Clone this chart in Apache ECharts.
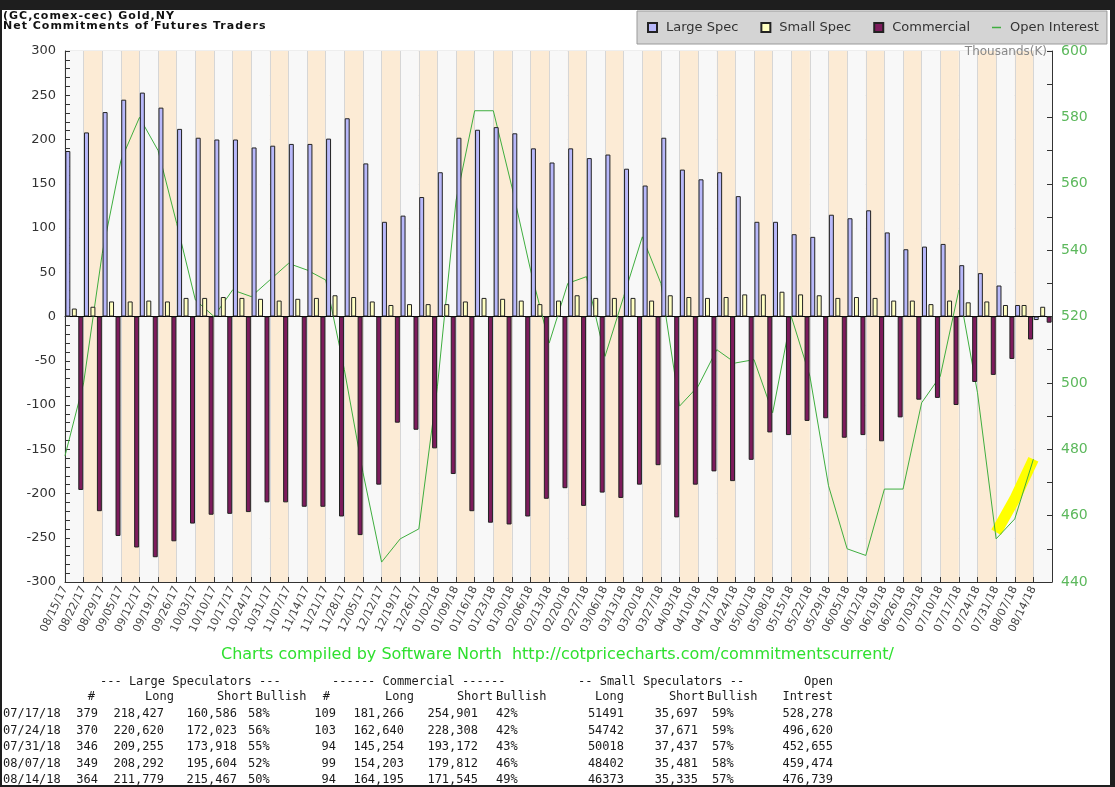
<!DOCTYPE html>
<html>
<head>
<meta charset="utf-8">
<title>Gold COT</title>
<script src="https://cdn.jsdelivr.net/npm/echarts@6/dist/echarts.min.js"></script>
<style>
  body { margin: 0; background: #1e1e1e; width: 1115px; height: 787px; overflow: hidden; }
  #page { position: absolute; left: 2px; top: 10px; width: 1108px; height: 775px; background: #fff; }
  #chart { position: absolute; left: 0; top: 0; width: 1115px; height: 787px; }
  #title { position: absolute; left: 3px; top: 11px; white-space: pre; letter-spacing: 1px;
           font: bold 11px/10px "DejaVu Sans", sans-serif; color: #111; }
  #credit { position: absolute; left: 0; width: 1115px; top: 644px; text-align: center; white-space: pre;
            font: 16px "DejaVu Sans", sans-serif; color: #2fe02f; }
  .cell { position: absolute; white-space: pre; font: 12px "DejaVu Sans Mono", monospace; color: #1a1a1a; line-height: 14px; }
</style>
</head>
<body>
<div id="page"></div>
<div id="chart"></div>
<div id="title">(GC,comex-cec) Gold,NY
Net Commitments of Futures Traders</div>
<div id="credit">Charts compiled by Software North  http://cotpricecharts.com/commitmentscurrent/</div>
<div id="table"></div>
<script>
// weekly report dates
const dates = ['08/15/17','08/22/17','08/29/17','09/05/17','09/12/17','09/19/17','09/26/17','10/03/17','10/10/17',
  '10/17/17','10/24/17','10/31/17','11/07/17','11/14/17','11/21/17','11/28/17','12/05/17','12/12/17','12/19/17',
  '12/26/17','01/02/18','01/09/18','01/16/18','01/23/18','01/30/18','02/06/18','02/13/18','02/20/18','02/27/18',
  '03/06/18','03/13/18','03/20/18','03/27/18','04/03/18','04/10/18','04/17/18','04/24/18','05/01/18','05/08/18',
  '05/15/18','05/22/18','05/29/18','06/05/18','06/12/18','06/19/18','06/26/18','07/03/18','07/10/18','07/17/18',
  '07/24/18','07/31/18','08/07/18','08/14/18'];

// net positions, thousands of contracts
const largeSpec = [187, 208, 231, 245, 253, 236, 212, 202, 200, 200, 191, 193, 195, 195, 201, 224, 173, 107, 114,
  135, 163, 202, 211, 214, 207, 190, 174, 190, 179, 183, 167, 148, 202, 166, 155, 163, 136, 107, 107,
  93, 90, 115, 111, 120, 95, 76, 79, 82, 58, 49, 35, 13, -4];
const smallSpec = [9, 11, 17, 17, 18, 17, 21, 21, 22, 21, 20, 18, 20, 21, 24, 22, 17, 13, 14,
  14, 14, 17, 21, 20, 18, 14, 18, 24, 21, 21, 21, 18, 24, 22, 21, 22, 25, 25, 28,
  25, 24, 21, 22, 21, 18, 18, 14, 18, 16, 17, 13, 13, 11];
const commercial = [-196, -220, -248, -261, -272, -254, -234, -224, -223, -221, -210, -210, -215, -215, -226, -247, -190, -120, -128,
  -149, -178, -220, -233, -235, -226, -206, -194, -214, -199, -205, -190, -168, -227, -190, -175, -186, -162, -131, -134,
  -118, -115, -137, -134, -141, -114, -94, -92, -100, -74, -66, -48, -26, -7];
// open interest, thousands
const openInterest = [478, 500, 539, 567, 580, 570, 548, 525, 520, 528, 526, 531, 536, 534, 531, 504, 473, 446, 453,
  456, 499, 555, 582, 582, 559, 534, 512, 530, 532, 508, 526, 544, 530, 493, 499, 510, 506, 507, 491,
  520, 502, 469, 450, 448, 468, 468, 494, 502, 528, 497, 453, 459, 477];
// yellow marker stroke over the last three weeks
const highlightStart = 50;
const highlight = [455, 465, 477];

// table under the chart
const tblDates = ['07/17/18', '07/24/18', '07/31/18', '08/07/18', '08/14/18'];
const lsTraders = ['379', '370', '346', '349', '364'];
const lsLong = ['218,427', '220,620', '209,255', '208,292', '211,779'];
const lsShort = ['160,586', '172,023', '173,918', '195,604', '215,467'];
const lsBull = ['58%', '56%', '55%', '52%', '50%'];
const cmTraders = ['109', '103', '94', '99', '94'];
const cmLong = ['181,266', '162,640', '145,254', '154,203', '164,195'];
const cmShort = ['254,901', '228,308', '193,172', '179,812', '171,545'];
const cmBull = ['42%', '42%', '43%', '46%', '49%'];
const ssLong = ['51491', '54742', '50018', '48402', '46373'];
const ssShort = ['35,697', '37,671', '37,437', '35,481', '35,335'];
const ssBull = ['59%', '59%', '57%', '58%', '57%'];
const oiTable = ['528,278', '496,620', '452,655', '459,474', '476,739'];

const chart = echarts.init(document.getElementById('chart'));

const highlightData = dates.map((d, i) => {
  const k = i - highlightStart;
  return k >= 0 && k < highlight.length ? highlight[k] : null;
});

const option = {
  backgroundColor: 'transparent',
  animation: false,
  legend: {
    left: 637, top: 11,
    padding: [10, 8, 10, 10],
    itemWidth: 9, itemHeight: 9, itemGap: 22,
    backgroundColor: '#d4d4d4', borderColor: '#9a9a9a', borderWidth: 1, borderRadius: 0,
    selectedMode: false,
    textStyle: { fontFamily: 'DejaVu Sans', fontSize: 13, color: '#333', padding: [0, 0, 0, 4] },
    data: [
      { name: 'Large Spec', icon: 'rect' },
      { name: 'Small Spec', icon: 'rect' },
      { name: 'Commercial', icon: 'rect' },
      { name: 'Open Interest', icon: 'path://M0,0H12V2H0Z' }
    ]
  },
  grid: {
    left: 65, right: 63, top: 51, bottom: 205,
    show: true, borderColor: '#dcdcdc', borderWidth: 1, backgroundColor: 'transparent',
    outerBoundsMode: 'none'
  },
  xAxis: [
    {
      type: 'category', data: dates, position: 'top', boundaryGap: true,
      axisLine: { onZero: true, onZeroAxisIndex: 0, lineStyle: { color: '#000', width: 1 } },
      axisTick: { show: false }, axisLabel: { show: false },
      splitLine: { show: true, interval: 0, lineStyle: { color: '#d6d6d6' } },
      splitArea: { show: true, interval: 0, areaStyle: { color: ['#f8f8f8', '#fcebd5'] } }
    },
    {
      type: 'category', data: dates.concat(['']), position: 'bottom', boundaryGap: false,
      axisLine: { onZero: false, lineStyle: { color: '#333' } },
      axisTick: { inside: true, length: 5, interval: 0, lineStyle: { color: '#333' } },
      axisLabel: { interval: 0, rotate: 64, margin: 5, fontFamily: 'DejaVu Sans', fontSize: 11, color: '#444' },
      splitLine: { show: false }
    }
  ],
  yAxis: [
    {
      type: 'value', min: -300, max: 300, interval: 50, position: 'left',
      axisLine: { show: true, lineStyle: { color: '#333' } },
      axisTick: { show: true, inside: true, length: 5, lineStyle: { color: '#333' } },
      minorTick: { show: true, splitNumber: 5, length: 5, lineStyle: { color: '#333' } },
      axisLabel: { fontFamily: 'DejaVu Sans', fontSize: 13, color: '#333', margin: 9 },
      splitLine: { show: true, lineStyle: { color: '#d8d8d8' } }
    },
    {
      type: 'value', min: 440, max: 600, interval: 20, position: 'right',
      name: 'Thousands(K)', nameLocation: 'end', nameGap: -1,
      nameTextStyle: { fontFamily: 'DejaVu Sans', fontSize: 12, color: '#888', align: 'right',
        verticalAlign: 'middle', padding: [0, 5, 0, 0] },
      axisLine: { show: true, lineStyle: { color: '#333' } },
      axisTick: { show: true, inside: true, length: 5, lineStyle: { color: '#333' } },
      minorTick: { show: true, splitNumber: 2, length: 5, lineStyle: { color: '#333' } },
      axisLabel: { fontFamily: 'DejaVu Sans', fontSize: 14, color: '#5cb85c', margin: 9 },
      splitLine: { show: false }
    }
  ],
  series: [
    {
      name: 'Large Spec', type: 'bar', xAxisIndex: 0, yAxisIndex: 0, data: largeSpec, z: 3,
      barGap: '30%', barCategoryGap: '4%',
      itemStyle: { color: '#b8b8fa', borderColor: '#222', borderWidth: 1 }
    },
    {
      name: 'Small Spec', type: 'bar', xAxisIndex: 0, yAxisIndex: 0, data: smallSpec, z: 3,
      itemStyle: { color: '#ffffc2', borderColor: '#222', borderWidth: 1 }
    },
    {
      name: 'Commercial', type: 'bar', xAxisIndex: 0, yAxisIndex: 0, data: commercial, z: 3,
      itemStyle: { color: '#7d1b5c', borderColor: '#222', borderWidth: 1 }
    },
    {
      name: 'marker', type: 'line', xAxisIndex: 1, yAxisIndex: 1, data: highlightData, z: 1,
      symbol: 'none', silent: true, lineStyle: { color: '#ffff00', width: 11, cap: 'butt' }
    },
    {
      name: 'Open Interest', type: 'line', xAxisIndex: 1, yAxisIndex: 1, data: openInterest, z: 2,
      symbol: 'none', itemStyle: { color: '#3fae3f' }, lineStyle: { color: '#3fae3f', width: 1 }
    }
  ]
};

chart.setOption(option);

// text table below the chart
const table = document.getElementById('table');
function cell(text, x, y, align) {
  const el = document.createElement('div');
  el.className = 'cell';
  el.textContent = text;
  el.style.top = (y - 7) + 'px';
  if (align === 'right') el.style.right = (1115 - x) + 'px';
  else el.style.left = x + 'px';
  table.appendChild(el);
}
cell('--- Large Speculators ---', 100, 681, 'left');
cell('------ Commercial ------', 332, 681, 'left');
cell('-- Small Speculators --', 578, 681, 'left');
cell('Open', 833, 681, 'right');
cell('#', 95, 696, 'right');
cell('Long', 174, 696, 'right');
cell('Short', 253, 696, 'right');
cell('Bullish', 256, 696, 'left');
cell('#', 330, 696, 'right');
cell('Long', 414, 696, 'right');
cell('Short', 493, 696, 'right');
cell('Bullish', 496, 696, 'left');
cell('Long', 624, 696, 'right');
cell('Short', 705, 696, 'right');
cell('Bullish', 707, 696, 'left');
cell('Intrest', 833, 696, 'right');
tblDates.forEach((d, i) => {
  const y = 713 + i * 16.6;
  cell(d, 3, y, 'left');
  cell(lsTraders[i], 98, y, 'right');
  cell(lsLong[i], 164, y, 'right');
  cell(lsShort[i], 237, y, 'right');
  cell(lsBull[i], 248, y, 'left');
  cell(cmTraders[i], 336, y, 'right');
  cell(cmLong[i], 404, y, 'right');
  cell(cmShort[i], 478, y, 'right');
  cell(cmBull[i], 496, y, 'left');
  cell(ssLong[i], 624, y, 'right');
  cell(ssShort[i], 698, y, 'right');
  cell(ssBull[i], 712, y, 'left');
  cell(oiTable[i], 833, y, 'right');
});
</script>
</body>
</html>
